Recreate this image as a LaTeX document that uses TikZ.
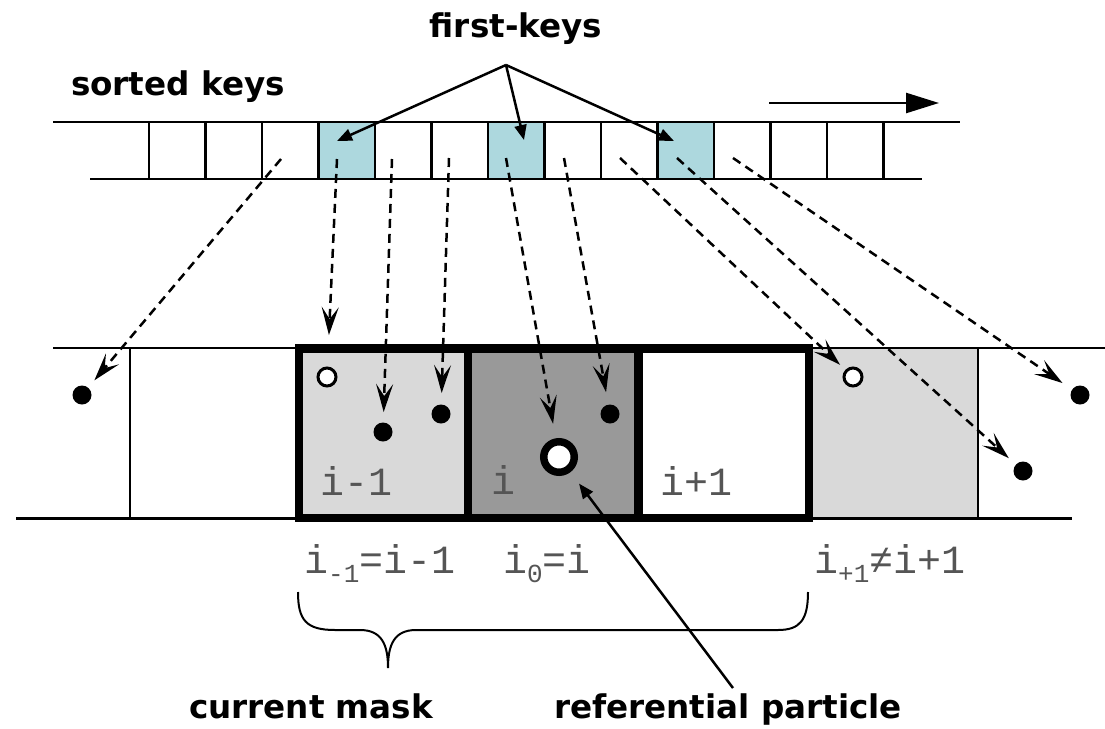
\documentclass[tikz,border=0pt]{standalone}
\usepackage{fontspec}
\usetikzlibrary{arrows.meta}
\newfontfamily\headfont{DejaVu Sans}
\newfontfamily\codefont{Liberation Mono}
\definecolor{keyblue}{RGB}{173,216,222}
\definecolor{cellgray}{RGB}{217,217,217}
\definecolor{darkcell}{RGB}{153,153,153}
\definecolor{labgray}{RGB}{85,85,85}
\newcommand\lowidx[1]{\raisebox{-9pt}{\fontsize{26}{28}\selectfont #1}}
\begin{document}
\begin{tikzpicture}[x=1pt,y=-1pt,
  heading/.style={font=\headfont\bfseries\fontsize{32.6}{36}\selectfont, inner sep=0, anchor=base},
  cellno/.style={font=\codefont\fontsize{40}{44}\selectfont, text=labgray, inner sep=0, anchor=base},
  index/.style={font=\codefont\fontsize{40}{44}\selectfont, text=labgray, inner sep=0, anchor=base west},
  thinline/.style={line width=2.6pt},
  particle/.style={circle, fill=black, minimum size=19pt, inner sep=0, outer sep=0},
  firstparticle/.style={circle, draw=black, fill=white, line width=3pt, minimum size=18pt, inner sep=0, outer sep=0},
  refparticle/.style={circle, draw=black, fill=white, line width=7.5pt, minimum size=30.5pt, inner sep=0, outer sep=0},
  mapping/.style={line width=2.5pt, dash pattern=on 9pt off 6pt, -{Stealth[length=28pt,width=17pt,inset=12pt]}},
  pointer/.style={line width=2.5pt, -{Triangle[length=15pt,width=12pt]}},
]
\useasboundingbox (0,0) rectangle (1105,728);
\fill[white] (0,0) rectangle (1105,728);

% sorted key array
\foreach \k in {3,6,9}
  \fill[keyblue] ({149+56.5*\k},122) rectangle ({149+56.5*(\k+1)},179);
\draw[thinline] (53,122) -- (960,122);
\draw[thinline] (90,179) -- (922,179);
\foreach \k in {0,...,13}
  \draw[thinline] ({149+56.5*\k},122) -- ({149+56.5*\k},179);

% direction of sorting
\coordinate (sa) at (769,103);
\coordinate (sb) at (939,103);
\draw[line width=2.5pt, -{Triangle[length=33pt,width=20pt]}] (sa) -- (sb);

% headings
\node[heading] (fk) at (516,37) {first-keys};
\node[heading] (sk) at (178,95) {sorted keys};
\node[heading] (cm) at (311,718) {current mask};
\node[heading] (rp) at (728,718) {referential particle};

% first-key pointers
\coordinate (fo) at (506,65);
\coordinate (t1) at (337,141);
\coordinate (t2) at (524,140);
\coordinate (t3) at (674,141);
\draw[pointer] (fo) -- (t1);
\draw[pointer] (fo) -- (t2);
\draw[pointer] (fo) -- (t3);

% grid cells
\fill[cellgray] (299,348) rectangle (468,518);
\fill[darkcell] (468,348) rectangle (638.5,518);
\fill[cellgray] (809,348) rectangle (978,518);
\draw[thinline] (53,348) -- (1105,348);
\draw[thinline] (16,518.5) -- (1072,518.5);
\draw[thinline] (130,348) -- (130,518.5);
\draw[thinline] (978,348) -- (978,518.5);
\draw[line width=8.5pt, line join=miter] (299,348.5) rectangle (809,518);
\draw[line width=8.5pt] (468,348.5) -- (468,518);
\draw[line width=8.5pt] (638.5,348.5) -- (638.5,518);

% cell numbers
\node[cellno] (l1) at (357,495) {i-1};
\node[cellno] (l2) at (503.5,494) {i};
\node[cellno] (l3) at (696.5,495) {i+1};

% particles
\node[particle] (p1) at (82,395) {};
\node[firstparticle] (f1) at (327,377) {};
\node[particle] (p2) at (383,432) {};
\node[particle] (p3) at (441,414) {};
\node[refparticle] (ref) at (559,457) {};
\node[particle] (p4) at (610,414) {};
\node[firstparticle] (f2) at (853,377) {};
\node[particle] (p5) at (1080,395) {};
\node[particle] (p6) at (1023,471) {};

% key to particle mapping
\coordinate (s1) at (281,159);
\coordinate (s2) at (337,159);
\coordinate (s3) at (392,159);
\coordinate (s4) at (449,158);
\coordinate (s5) at (506,158);
\coordinate (s6) at (564,158);
\coordinate (s7) at (620,158);
\coordinate (s8) at (677,158);
\coordinate (s9) at (733,158);
\draw[mapping, shorten >=9.7pt] (s1) -- (p1);
\draw[mapping, shorten >=33pt] (s2) -- (f1);
\draw[mapping, shorten >=10.5pt] (s3) -- (p2);
\draw[mapping, shorten >=11.5pt] (s4) -- (p3);
\draw[mapping, shorten >=18.5pt] (s5) -- (ref);
\draw[mapping, shorten >=12.6pt] (s6) -- (p4);
\draw[mapping, shorten >=8.7pt] (s7) -- (f2);
\draw[mapping, shorten >=9.6pt] (s8) -- (p6);
\draw[mapping, shorten >=11.7pt] (s9) -- (p5);

% cell indices
\node[index] (x1) at (304,573) {i\lowidx{-1}=i-1};
\node[index] (x2) at (503,573) {i\lowidx{0}=i};
\node[index] (x3) at (814,573) {i\lowidx{+1}≠i+1};

% brace under the mask
\draw[line width=2pt] (298,592) .. controls (298,620) and (306,630) .. (335,630)
  -- (360,630) .. controls (382,630) and (388,645) .. (388,668)
  .. controls (388,645) and (394,630) .. (416,630)
  -- (778,630) .. controls (800,630) and (808,620) .. (808,592);

% referential particle pointer
\coordinate (rt) at (733,688);
\draw[pointer, shorten >=18pt] (rt) -- (ref);
\end{tikzpicture}
\end{document}
